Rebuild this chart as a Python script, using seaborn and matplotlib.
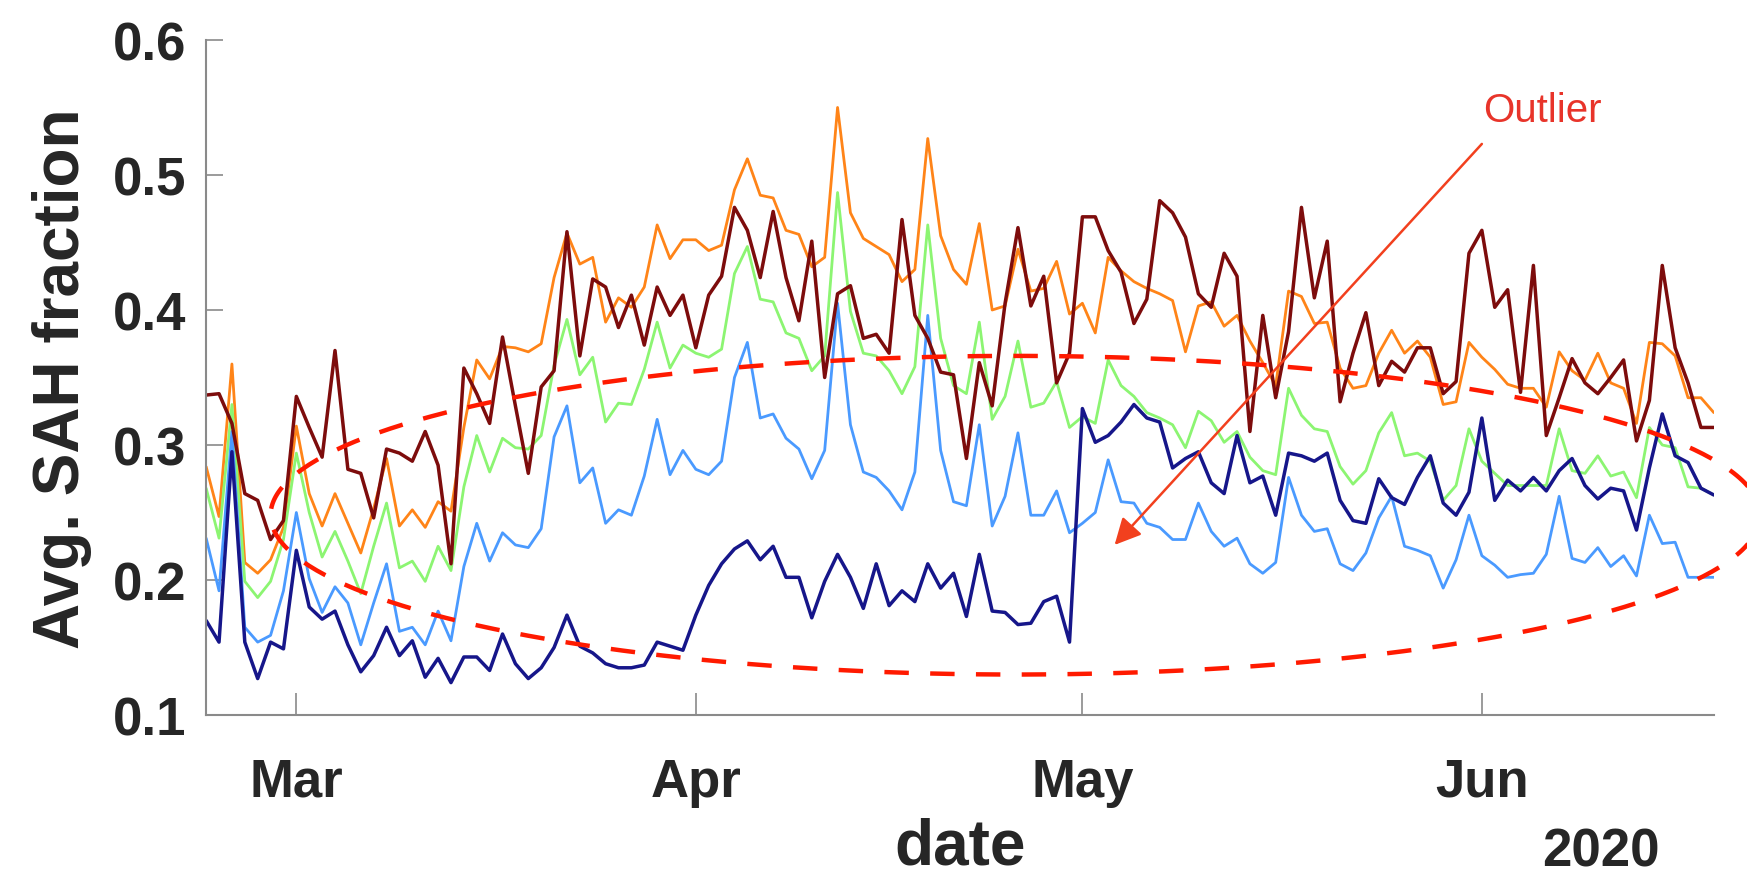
import numpy as np
import pandas as pd
import seaborn as sns
import matplotlib.pyplot as plt
import matplotlib.dates as mdates

sns.set_style("ticks")
plt.rcParams['font.family'] = ['Liberation Sans', 'DejaVu Sans']
plt.rcParams['font.weight'] = 'bold'

# daily values, 23 Feb 2020 .. 19 Jun 2020
dates = pd.date_range("2020-02-23", "2020-06-19", freq="D")

maroon = [0.337, 0.338, 0.316, 0.264, 0.259, 0.230, 0.244, 0.336, 0.313, 0.291,
          0.370, 0.282, 0.279, 0.246, 0.297, 0.294, 0.288, 0.310, 0.285, 0.212,
          0.357, 0.338, 0.316, 0.380, 0.329, 0.279, 0.343, 0.355, 0.458, 0.366,
          0.423, 0.417, 0.387, 0.411, 0.374, 0.417, 0.396, 0.411, 0.372, 0.411,
          0.425, 0.476, 0.459, 0.424, 0.473, 0.424, 0.392, 0.451, 0.350, 0.412,
          0.418, 0.379, 0.382, 0.368, 0.467, 0.396, 0.379, 0.354, 0.352, 0.290,
          0.361, 0.329, 0.405, 0.461, 0.403, 0.425, 0.346, 0.368, 0.469, 0.469,
          0.444, 0.428, 0.390, 0.408, 0.481, 0.472, 0.454, 0.412, 0.402, 0.442,
          0.425, 0.310, 0.396, 0.335, 0.384, 0.476, 0.409, 0.451, 0.332, 0.368,
          0.398, 0.344, 0.362, 0.354, 0.372, 0.372, 0.338, 0.347, 0.442, 0.459,
          0.402, 0.415, 0.339, 0.433, 0.307, 0.335, 0.364, 0.346, 0.338, 0.350,
          0.363, 0.303, 0.333, 0.433, 0.372, 0.346, 0.313, 0.313]

orange = [0.284, 0.247, 0.360, 0.213, 0.205, 0.215, 0.239, 0.314, 0.264, 0.240,
          0.264, 0.242, 0.220, 0.253, 0.290, 0.240, 0.252, 0.239, 0.258, 0.251,
          0.313, 0.363, 0.349, 0.373, 0.372, 0.369, 0.375, 0.424, 0.457, 0.434,
          0.439, 0.391, 0.409, 0.402, 0.417, 0.463, 0.438, 0.452, 0.452, 0.444,
          0.448, 0.489, 0.512, 0.485, 0.483, 0.459, 0.456, 0.432, 0.439, 0.550,
          0.472, 0.453, 0.447, 0.441, 0.421, 0.430, 0.527, 0.455, 0.430, 0.419,
          0.464, 0.400, 0.403, 0.445, 0.414, 0.416, 0.436, 0.397, 0.405, 0.383,
          0.439, 0.429, 0.421, 0.416, 0.412, 0.407, 0.369, 0.403, 0.406, 0.388,
          0.396, 0.377, 0.361, 0.344, 0.414, 0.410, 0.390, 0.391, 0.357, 0.342,
          0.344, 0.368, 0.385, 0.368, 0.377, 0.365, 0.330, 0.332, 0.376, 0.365,
          0.356, 0.345, 0.342, 0.342, 0.328, 0.369, 0.355, 0.348, 0.368, 0.346,
          0.342, 0.316, 0.376, 0.375, 0.366, 0.335, 0.335, 0.324]

green = [0.268, 0.231, 0.330, 0.199, 0.187, 0.199, 0.230, 0.294, 0.250, 0.217,
         0.236, 0.214, 0.190, 0.225, 0.257, 0.209, 0.214, 0.199, 0.225, 0.207,
         0.269, 0.307, 0.280, 0.305, 0.298, 0.297, 0.307, 0.359, 0.393, 0.352,
         0.365, 0.317, 0.331, 0.330, 0.356, 0.391, 0.357, 0.374, 0.368, 0.365,
         0.371, 0.427, 0.447, 0.408, 0.406, 0.383, 0.379, 0.355, 0.366, 0.487,
         0.399, 0.368, 0.366, 0.355, 0.338, 0.358, 0.463, 0.379, 0.344, 0.338,
         0.391, 0.319, 0.336, 0.377, 0.328, 0.331, 0.347, 0.313, 0.321, 0.316,
         0.363, 0.344, 0.336, 0.324, 0.320, 0.315, 0.298, 0.325, 0.318, 0.302,
         0.310, 0.291, 0.281, 0.278, 0.342, 0.322, 0.312, 0.310, 0.284, 0.271,
         0.281, 0.309, 0.324, 0.292, 0.294, 0.288, 0.259, 0.270, 0.312, 0.288,
         0.279, 0.270, 0.270, 0.270, 0.270, 0.312, 0.281, 0.279, 0.292, 0.277,
         0.280, 0.261, 0.313, 0.300, 0.298, 0.269, 0.268, 0.263]

blue = [0.231, 0.192, 0.310, 0.165, 0.154, 0.159, 0.192, 0.250, 0.201, 0.176,
        0.195, 0.183, 0.152, 0.183, 0.212, 0.162, 0.165, 0.152, 0.177, 0.155,
        0.210, 0.242, 0.214, 0.235, 0.226, 0.224, 0.238, 0.306, 0.329, 0.272,
        0.283, 0.242, 0.252, 0.248, 0.277, 0.319, 0.278, 0.296, 0.282, 0.278,
        0.288, 0.350, 0.376, 0.320, 0.323, 0.305, 0.297, 0.275, 0.296, 0.405,
        0.315, 0.280, 0.276, 0.266, 0.252, 0.280, 0.396, 0.296, 0.258, 0.255,
        0.315, 0.240, 0.262, 0.309, 0.248, 0.248, 0.266, 0.235, 0.242, 0.250,
        0.289, 0.258, 0.257, 0.242, 0.239, 0.230, 0.230, 0.257, 0.236, 0.225,
        0.231, 0.212, 0.205, 0.213, 0.276, 0.248, 0.236, 0.238, 0.212, 0.207,
        0.220, 0.246, 0.262, 0.225, 0.222, 0.218, 0.194, 0.215, 0.248, 0.218,
        0.211, 0.202, 0.204, 0.205, 0.219, 0.262, 0.216, 0.213, 0.224, 0.210,
        0.218, 0.203, 0.248, 0.227, 0.228, 0.202, 0.202, 0.202]

navy = [0.170, 0.154, 0.295, 0.154, 0.127, 0.154, 0.149, 0.222, 0.180, 0.171,
        0.177, 0.152, 0.132, 0.144, 0.165, 0.144, 0.155, 0.128, 0.142, 0.124,
        0.143, 0.143, 0.133, 0.160, 0.138, 0.127, 0.135, 0.150, 0.174, 0.151,
        0.146, 0.138, 0.135, 0.135, 0.137, 0.154, 0.151, 0.148, 0.174, 0.196,
        0.212, 0.223, 0.229, 0.215, 0.225, 0.202, 0.202, 0.172, 0.199, 0.219,
        0.202, 0.179, 0.212, 0.181, 0.192, 0.184, 0.212, 0.194, 0.205, 0.173,
        0.219, 0.177, 0.176, 0.167, 0.168, 0.184, 0.188, 0.154, 0.327, 0.302,
        0.307, 0.317, 0.330, 0.320, 0.317, 0.283, 0.290, 0.295, 0.272, 0.264,
        0.307, 0.272, 0.277, 0.248, 0.294, 0.292, 0.288, 0.294, 0.259, 0.244,
        0.242, 0.275, 0.261, 0.256, 0.276, 0.292, 0.257, 0.248, 0.265, 0.320,
        0.259, 0.274, 0.266, 0.276, 0.266, 0.281, 0.290, 0.270, 0.260, 0.268,
        0.266, 0.237, 0.283, 0.323, 0.292, 0.287, 0.268, 0.263]

series = [(orange, '#ff8418', 2.0),
          (green, '#8cf572', 2.0),
          (blue, '#4a9aff', 2.0),
          (maroon, '#7d0c0c', 2.5),
          (navy, '#16168a', 2.5)]

fig = plt.figure(figsize=(17.47, 8.79), dpi=100)
ax = fig.add_axes([0.118, 0.1854, 0.863, 0.768])

for vals, col, lw in series:
    sns.lineplot(x=dates, y=vals, color=col, lw=lw, ax=ax)

# dashed ellipse around the bulk of the curves (centre day, half width in days)
t = np.linspace(0, 2 * np.pi, 400)
x0 = mdates.date2num(dates[0])
ex = x0 + 62.8 + 57.8 * np.cos(t)
ey = 0.248 + 0.118 * np.sin(t)
ax.plot(ex, ey, color='#ff1a00', lw=3.2, dashes=(5.5, 4.8), clip_on=False, zorder=10)

# outlier arrow
ax.annotate('', xy=(x0 + 70.5, 0.226), xytext=(x0 + 99.0, 0.523),
            arrowprops=dict(arrowstyle='-|>', color='#f2401e', lw=1.8,
                            mutation_scale=40, shrinkA=0, shrinkB=0),
            zorder=11)
ax.text(x0 + 103.7, 0.548, 'Outlier', color='#e8342a', fontsize=29,
        fontweight='normal', ha='center', va='center')

ax.set_xlim(dates[0], dates[-1])
ax.set_ylim(0.1, 0.6)
ax.set_yticks([0.1, 0.2, 0.3, 0.4, 0.5, 0.6])
ax.yaxis.set_major_formatter(plt.FormatStrFormatter('%.1f'))
ax.xaxis.set_major_locator(mdates.MonthLocator())
ax.xaxis.set_major_formatter(mdates.DateFormatter('%b'))

sns.despine(ax=ax)
for s in ['left', 'bottom']:
    ax.spines[s].set_color('#8a8a8a')
    ax.spines[s].set_linewidth(1.5)
ax.tick_params(axis='both', direction='in', color='#8a8a8a', width=1.2,
               labelsize=38, labelcolor='#262626')
ax.tick_params(axis='y', length=12, pad=14)
ax.tick_params(axis='x', length=16, pad=30)
for lab in ax.get_xticklabels() + ax.get_yticklabels():
    lab.set_fontweight('bold')

ax.set_xlabel('date', fontsize=46, fontweight='bold', color='#262626')
ax.xaxis.set_label_coords(0.5, -0.15)
ax.set_ylabel('Avg. SAH fraction', fontsize=46, fontweight='bold', color='#262626')
ax.yaxis.set_label_coords(-0.076, 0.5)
ax.text(0.964, -0.2015, '2020', transform=ax.transAxes, fontsize=38,
        fontweight='bold', color='#262626', ha='right', va='center')

fig.savefig('out.png', dpi=100)
